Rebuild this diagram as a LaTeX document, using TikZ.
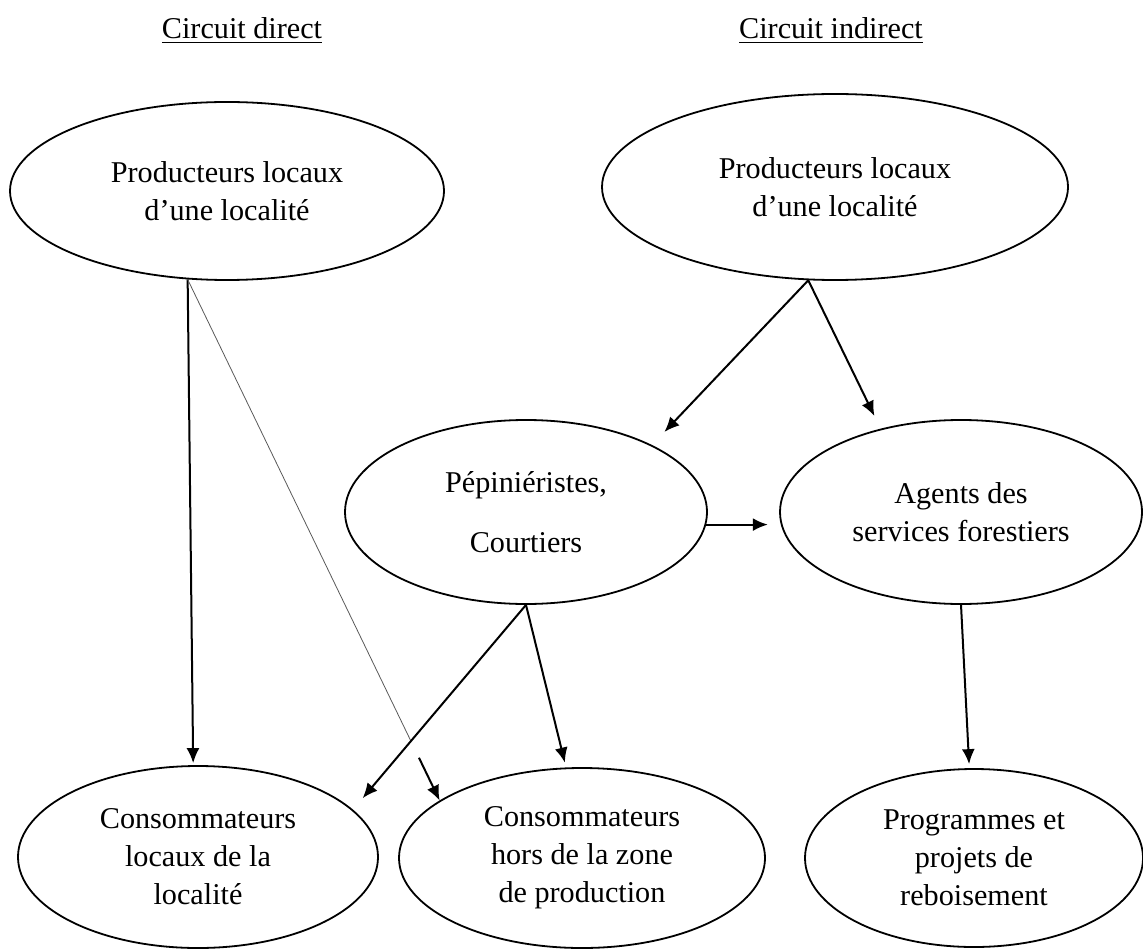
\documentclass[tikz,border=0pt]{standalone}
\usepackage{fontspec}
\setmainfont{Liberation Serif}
\usetikzlibrary{shapes,arrows.meta,calc}

\tikzset{
  bulle/.style={ellipse, draw, line width=0.9pt, inner sep=0pt, align=center},
  fleche/.style={-{Latex[length=7.5pt,width=6.5pt]}, line width=1pt},
  trait/.style={draw=black!65, line width=0.4pt}
}

\begin{document}
\begin{tikzpicture}[x=0.5pt,y=-0.5pt,font=\fontsize{15.1}{19}\selectfont]
\useasboundingbox (0,0) rectangle (1143,951);
% titles
\node[anchor=base] (titreD) at (242,39) {\underline{Circuit direct}};
\node[anchor=base] (titreI) at (831,39) {\underline{Circuit indirect}};
% direct circuit
\node[bulle, minimum width=217pt, minimum height=89pt] (prodD) at (227,191)
  {Producteurs locaux\\d'une localité};
\node[bulle, minimum width=180pt, minimum height=91pt] (consL) at (198,857)
  {Consommateurs\\locaux de la\\localité};
\node[bulle, minimum width=183pt, minimum height=90pt] (consH) at (582,858)
  {Consommateurs\\hors de la zone\\de production};
% indirect circuit
\node[bulle, minimum width=233pt, minimum height=93pt] (prodI) at (835,187)
  {Producteurs locaux\\d'une localité};
\node[bulle, minimum width=181pt, minimum height=92pt] (pep) at (526,512)
  {Pépiniéristes,\\[11pt]Courtiers};
\node[bulle, minimum width=181pt, minimum height=92pt] (agents) at (961,512)
  {Agents des\\services forestiers};
\node[bulle, minimum width=169pt, minimum height=89pt] (prog) at (974,858)
  {Programmes et\\projets de\\reboisement};
% arrows
\draw[fleche, shorten >=1pt] (prodD.246) -- (consL.93);
\draw[trait] (prodD.246) -- ($(prodD.246)!0.887!(consH.158)$);
\draw[fleche] ($(prodD.246)!0.918!(consH.158)$) -- (consH.158);
\draw[fleche, shorten >=7.5pt] (pep.south) -- (consL.17);
\draw[fleche, shorten >=2.5pt] (pep.south) -- (consH.100);
\draw[fleche, shorten >=9pt] (prodI.254) -- (pep.28);
\draw[fleche, shorten >=7pt] (prodI.254) -- (agents.134);
\draw[fleche, shorten >=6.5pt] (pep.-4) -- (agents.184);
\draw[fleche, shorten >=2pt] (agents.south) -- (prog.93);
\end{tikzpicture}
\end{document}
